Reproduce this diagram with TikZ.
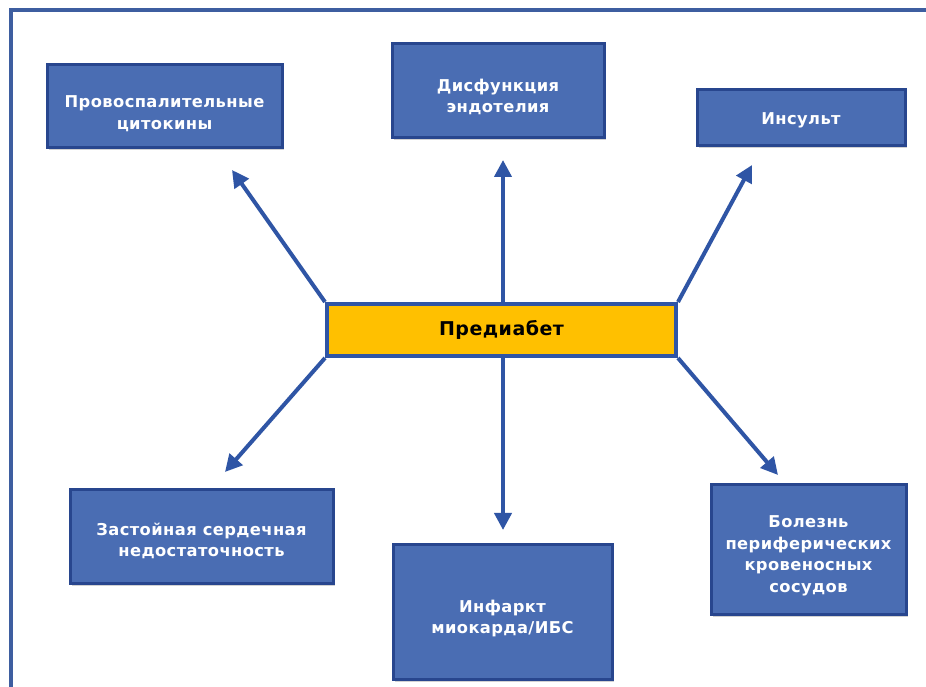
\documentclass[tikz,border=0pt]{standalone}
\usepackage{fontspec}
\setmainfont{DejaVu Sans}[LetterSpace=2.5]
\usetikzlibrary{arrows.meta,shadows,calc}
\definecolor{boxfill}{RGB}{74,109,179}
\definecolor{boxline}{RGB}{40,70,142}
\definecolor{arrowblue}{RGB}{47,85,165}
\definecolor{yel}{RGB}{255,192,0}
\definecolor{framec}{RGB}{62,94,160}
\begin{document}
\begin{tikzpicture}[x=1pt,y=1pt,
  bluebox/.style={draw=boxline, line width=3pt, fill=boxfill,
    inner sep=0pt, drop shadow={shadow xshift=1.5pt, shadow yshift=-2pt, opacity=0.35}},
  boxtext/.style={text=white, font=\fontsize{16.3}{21.5}\selectfont\bfseries,
    align=center, inner sep=0pt},
  centerbox/.style={draw=arrowblue, line width=4pt, fill=yel, text=black,
    font=\fontsize{19}{22}\selectfont\bfseries, inner sep=0pt},
  conn/.style={draw=arrowblue, line width=4pt, -{Triangle[length=17pt,width=17pt]}}]
\useasboundingbox (0,0) rectangle (926,687);
\fill[white] (0,0) rectangle (926,687);
% frame
\draw[framec, line width=4.5pt] (926,677) -- (11,677) -- (11,0);
% boxes
\node[bluebox, minimum width=235pt, minimum height=83pt] (b1) at (164.5,580.5) {};
\node[bluebox, minimum width=212pt, minimum height=94pt] (b2) at (498,596) {};
\node[bluebox, minimum width=208pt, minimum height=56pt] (b3) at (801,569) {};
\node[centerbox, minimum width=349pt, minimum height=52pt] (c) at (501.5,357) {Предиабет};
\node[bluebox, minimum width=263pt, minimum height=94pt] (b4) at (201.5,150) {};
\node[bluebox, minimum width=219pt, minimum height=135pt] (b5) at (502.5,74.5) {};
\node[bluebox, minimum width=195pt, minimum height=130pt] (b6) at (808.5,137) {};
% texts
\node[boxtext] (l1) at ([yshift=-7pt]b1.center) {Провоспалительные\\цитокины};
\node[boxtext] (l2) at ([yshift=-6pt]b2.center) {Дисфункция\\эндотелия};
\node[boxtext] (l3) at ([yshift=-2pt]b3.center) {Инсульт};
\node[boxtext] (l4) at ([yshift=-4pt]b4.center) {Застойная сердечная\\недостаточность};
\node[boxtext] (l5) at ([yshift=-6pt]b5.center) {Инфаркт\\миокарда/ИБС};
\node[boxtext] (l6) at ([yshift=-6pt]b6.center) {Болезнь\\периферических\\кровеносных\\сосудов};
% arrow tips
\coordinate (t1) at (232,517);
\coordinate (t2) at (503,527);
\coordinate (t3) at (752,522);
\coordinate (t4) at (225,215);
\coordinate (t5) at (503,157);
\coordinate (t6) at (778,212);
\draw[conn] (c.north west) -- (t1);
\draw[conn] (t2 |- c.north) -- (t2);
\draw[conn] (c.north east) -- (t3);
\draw[conn] (c.south west) -- (t4);
\draw[conn] (t5 |- c.south) -- (t5);
\draw[conn] (c.south east) -- (t6);
\end{tikzpicture}
\end{document}
